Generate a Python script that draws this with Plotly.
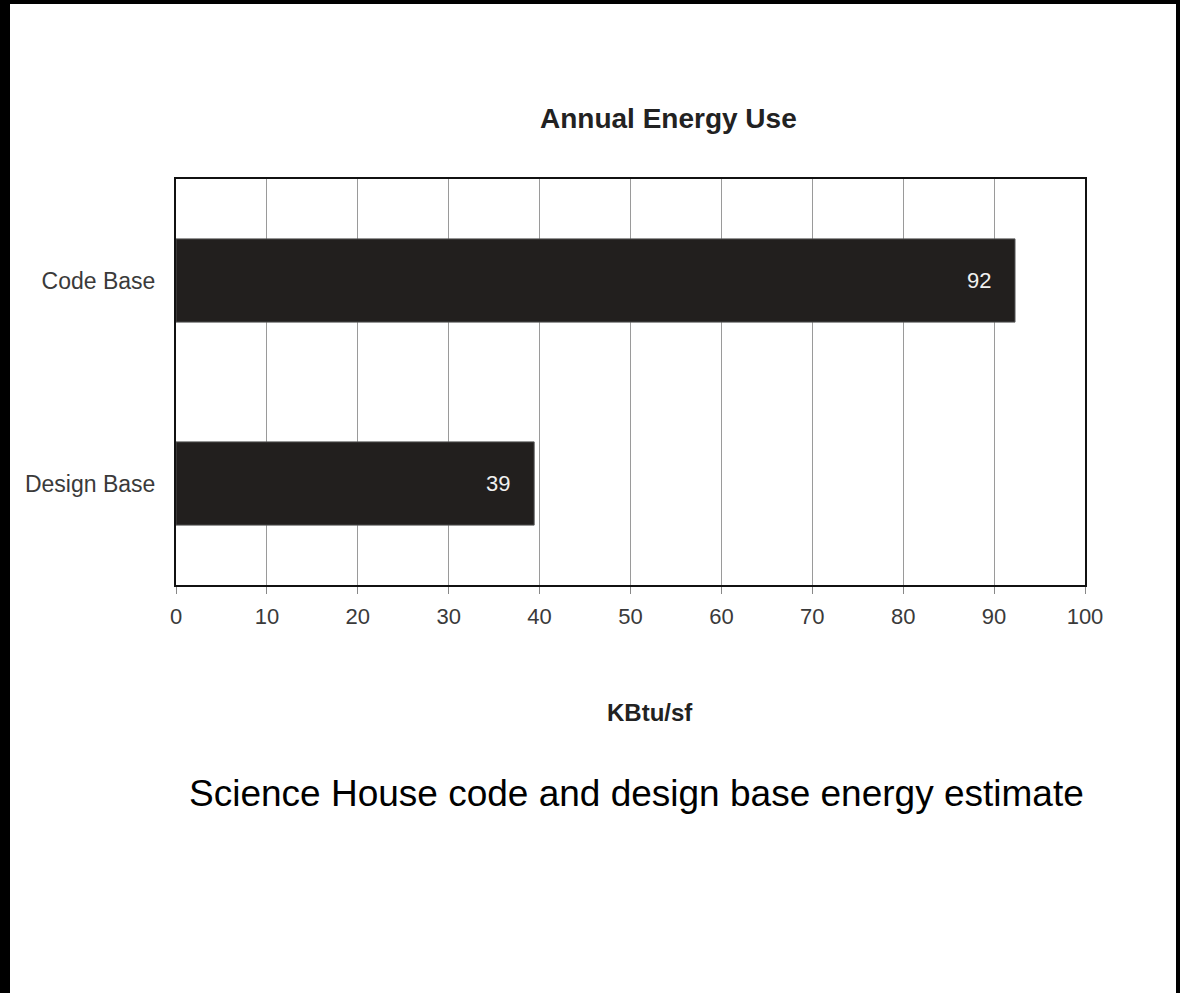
import plotly.graph_objects as go

categories = ["Code Base", "Design Base"]
values = [92.3, 39.4]
x_ticks = [0, 10, 20, 30, 40, 50, 60, 70, 80, 90, 100]

W, H = 1180, 993
L, R, T, B = 176, 1085, 179, 585
PW, PH = R - L, B - T

def px(x):
    return (x - L) / PW

def py(y):
    return (B - y) / PH

FONT = "Liberation Sans, Arial, sans-serif"

fig = go.Figure(go.Bar(
    x=values, y=categories, orientation="h",
    marker=dict(color="#221f1e", line=dict(color="#555", width=1)),
    width=0.41,
    hoverinfo="x+y",
))

annotations = [
    dict(x=v, y=c, xref="x", yref="y", text=f"{v:.0f}", showarrow=False,
         xanchor="right", yanchor="middle", xshift=-22,
         font=dict(size=22, color="#f0f0f0", family=FONT))
    for c, v in zip(categories, values)
]
annotations += [
    dict(text="<b>Annual Energy Use</b>", x=px(668), y=py(119), xref="paper", yref="paper",
         showarrow=False, xanchor="center", yanchor="middle",
         font=dict(size=28, color="#222", family=FONT)),
    dict(text="<b>KBtu/sf</b>", x=px(650), y=py(712), xref="paper", yref="paper",
         showarrow=False, xanchor="center", yanchor="middle",
         font=dict(size=24, color="#222", family=FONT)),
    dict(text="Science House code and design base energy estimate", x=px(636), y=py(793),
         xref="paper", yref="paper", showarrow=False, xanchor="center", yanchor="middle",
         font=dict(size=37, color="#000", family=FONT)),
]

fig.update_layout(
    width=W, height=H,
    margin=dict(l=L, r=W - R, t=T, b=H - B),
    paper_bgcolor="white", plot_bgcolor="white",
    showlegend=False,
    font=dict(family=FONT),
    xaxis=dict(range=[0, 100], tickvals=x_ticks, showgrid=True,
               gridcolor="#9a9a9a", gridwidth=1, zeroline=False,
               showline=True, linecolor="#111", linewidth=2, mirror=True,
               ticks="outside", ticklen=7, tickcolor="#888", ticklabelstandoff=4,
               tickfont=dict(size=22, color="#3a3a3a", family=FONT), fixedrange=True),
    yaxis=dict(range=[1.5, -0.5], showgrid=False, zeroline=False,
               showline=True, linecolor="#111", linewidth=2, mirror=True,
               ticks="", ticklabelstandoff=14,
               tickfont=dict(size=23, color="#3a3a3a", family=FONT)),
    annotations=annotations,
    shapes=[
        dict(type="rect", xref="paper", yref="paper", x0=px(0), x1=px(10), y0=py(H), y1=py(0),
             fillcolor="black", line=dict(width=0), layer="above"),
        dict(type="rect", xref="paper", yref="paper", x0=px(0), x1=px(W), y0=py(4), y1=py(0),
             fillcolor="black", line=dict(width=0), layer="above"),
        dict(type="rect", xref="paper", yref="paper", x0=px(1176), x1=px(W), y0=py(H), y1=py(0),
             fillcolor="black", line=dict(width=0), layer="above"),
    ],
)

fig.write_html("out.html", config={"displayModeBar": False},
               post_script="document.body.style.margin='0';")
